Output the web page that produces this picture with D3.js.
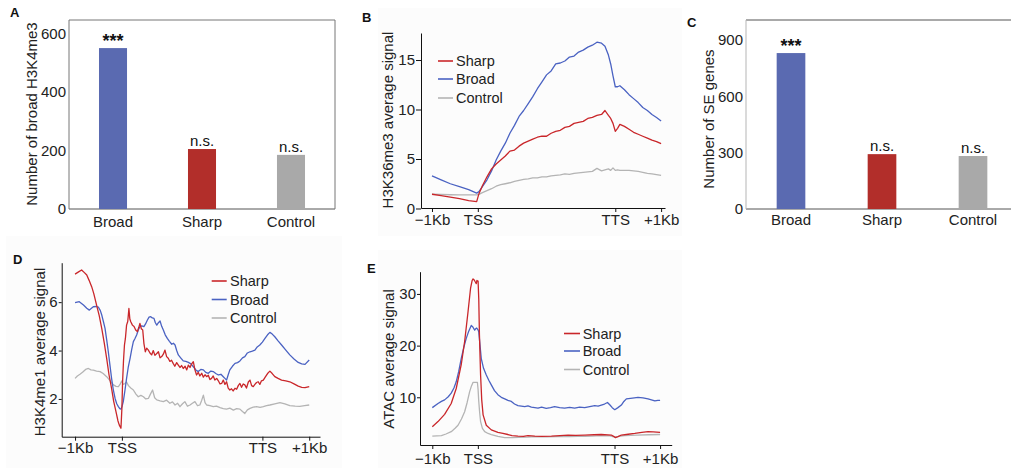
<!DOCTYPE html>
<html>
<head>
<meta charset="utf-8">
<script src="https://cdn.jsdelivr.net/npm/d3@7"></script>
<style>
  body { margin: 0; background: #fff; }
  svg { display: block; font-family: "Liberation Sans", Arial, sans-serif; }
</style>
</head>
<body>
<svg id="fig" width="1011" height="468"></svg>
<script>
// ---- data ----
const groups = ['Broad', 'Sharp', 'Control'];
const broadH3K4me3 = [550, 205, 185];
const seGenes = [830, 292, 282];
const signif = ['***', 'n.s.', 'n.s.'];
const ticksA = [0, 200, 400, 600];
const ticksC = [0, 300, 600, 900];

const profileTicks = [0, 20, 80, 100];
const profileLabels = ['\u22121Kb', 'TSS', 'TTS', '+1Kb'];
const legendNames = ['Sharp', 'Broad', 'Control'];

// B: H3K36me3 profiles (shared x positions, 0 = -1Kb, 20 = TSS, 80 = TTS, 100 = +1Kb)
const bX = [0,4,8,12,16,19.5,20.5,22,24,26,28,30,32,34,36,38,40,42,44,46,48,50,52,54,56,58,60,62,64,66,68,70,72,74,75.5,77,78,79,80,81,82,84,86,88,90,92,94,96,98,100];
const bSharp = [1.44,1.3,1.15,1.0,0.8,0.7,1.5,2.3,3.2,4.0,4.5,4.9,5.3,5.8,5.9,6.3,6.6,6.8,7.0,7.2,7.3,7.3,7.6,7.8,7.9,8.2,8.3,8.6,8.7,8.8,9.1,9.2,9.4,9.5,9.9,9.4,9.1,8.6,7.8,8.1,8.5,8.3,8.0,7.7,7.5,7.3,7.1,6.9,6.75,6.55];
const bBroad = [3.3,2.9,2.5,2.2,1.9,1.55,1.7,2.2,2.9,3.8,4.9,5.8,6.6,7.6,8.4,9.3,9.9,10.6,11.3,12.1,12.8,13.5,13.9,14.6,14.7,14.9,15.3,15.4,15.8,16.0,16.3,16.5,16.8,16.7,16.4,15.5,14.6,13.4,12.3,12.3,12.4,12.0,11.5,11.1,10.7,10.2,9.9,9.5,9.2,8.85];
const bControl = [1.44,1.42,1.39,1.37,1.37,1.37,1.42,1.6,1.8,2.0,2.25,2.4,2.5,2.6,2.75,2.85,2.95,3.0,3.1,3.1,3.2,3.2,3.3,3.35,3.4,3.5,3.45,3.55,3.6,3.65,3.7,3.75,4.05,3.8,3.9,4.0,3.85,4.1,3.85,3.9,3.85,3.85,3.85,3.8,3.75,3.65,3.55,3.5,3.42,3.35];

// D: H3K4me1 profiles, [x, signal]
const dSharp = [[0,7.16],[1.5,7.25],[2.8,7.33],[4,7.22],[5,7.12],[6,6.9],[7.1,6.64],[8,6.35],[9.2,5.88],[10.3,5.45],[11.4,4.92],[12.5,4.3],[13.5,3.68],[14.5,3.0],[15.6,2.44],[16.5,1.9],[17.5,1.47],[18.3,1.1],[18.9,0.92],[19.6,0.79],[20.0,1.6],[20.3,2.71],[20.7,3.6],[21.1,4.23],[21.5,4.5],[22,5.05],[22.5,5.2],[23,5.74],[23.4,5.3],[23.8,5.19],[24.5,5.05],[25.2,4.99],[25.9,4.85],[26.6,4.78],[27.2,4.95],[27.7,5.12],[28.3,4.9],[28.9,4.85],[29.4,4.3],[30,3.95],[30.6,4.1],[31.3,4.02],[32,3.9],[32.7,3.82],[33.4,4.0],[34.1,3.8],[34.9,3.88],[35.6,3.95],[36.3,3.7],[37,3.75],[37.7,3.85],[38.4,4.02],[39.1,3.75],[39.8,3.68],[40.5,3.55],[41.2,3.6],[41.9,3.47],[42.6,3.35],[43.4,3.5],[44.1,3.4],[44.8,3.3],[45.5,3.38],[46.2,3.26],[47,3.35],[47.7,3.2],[48.4,3.4],[49.1,3.3],[49.8,3.45],[50.5,3.54],[51.2,3.2],[51.9,2.99],[52.6,3.1],[53.3,2.95],[54.1,3.06],[54.8,2.9],[55.5,3.0],[56.2,2.92],[56.9,2.98],[57.6,2.8],[58.3,2.85],[59,2.95],[59.7,2.78],[60.5,2.85],[61.2,2.75],[61.9,2.62],[62.6,2.64],[63.3,2.78],[64,2.6],[64.7,2.71],[65.4,2.45],[66.1,2.37],[66.8,2.42],[67.5,2.33],[68.3,2.44],[69,2.4],[69.7,2.55],[70.4,2.64],[71.1,2.48],[71.8,2.62],[72.5,2.58],[73.2,2.45],[74,2.7],[74.7,2.78],[75.4,2.55],[76.1,2.51],[76.8,2.6],[77.5,2.68],[78.2,2.71],[78.9,2.6],[79.6,2.75],[80.4,2.78],[81.2,2.9],[82.2,3.05],[83.2,3.15],[84.2,3.05],[85.3,2.92],[86.7,2.85],[88.2,2.78],[90,2.75],[91.7,2.71],[93.5,2.62],[95.3,2.53],[96.8,2.48],[98.2,2.47],[100,2.51]];
const dBroad = [[0,5.98],[1.8,6.02],[3.6,5.88],[5,5.75],[6.1,5.67],[7,5.75],[7.8,5.81],[9,5.82],[10,5.79],[10.8,5.65],[11.4,5.47],[12.1,5.2],[12.8,4.92],[13.5,4.45],[14.2,3.95],[14.9,3.4],[15.6,2.85],[16.3,2.4],[17.1,2.02],[17.8,1.8],[18.5,1.68],[19.1,1.6],[19.6,1.58],[20.1,1.7],[20.6,1.89],[21.3,2.35],[22,2.85],[22.7,3.3],[23.5,3.68],[24.2,4.05],[24.9,4.37],[25.6,4.5],[26.3,4.64],[27,4.85],[27.7,4.99],[28.5,5.02],[29.4,4.99],[30.1,5.1],[30.9,5.26],[31.6,5.38],[32.3,5.4],[33,5.35],[33.7,5.33],[34.3,5.15],[34.9,5.05],[35.6,5.15],[36.3,5.22],[37,5.0],[37.7,4.85],[38.5,4.65],[39.4,4.5],[40.3,4.38],[41.3,4.26],[42,4.3],[42.7,4.23],[43.4,4.0],[44.1,3.82],[45.1,3.7],[46.2,3.57],[47.3,3.55],[48.4,3.51],[49.5,3.45],[50.5,3.33],[51.6,3.2],[52.6,3.13],[53.7,3.22],[54.8,3.2],[55.8,3.1],[56.9,3.06],[58,3.15],[59,3.13],[60.1,3.05],[61.2,2.99],[62.3,3.02],[63.3,2.92],[64,2.85],[64.7,2.78],[65.4,3.0],[66.1,3.2],[67.2,3.35],[68.3,3.47],[69.4,3.5],[70.4,3.57],[71.5,3.7],[72.5,3.75],[73.6,3.9],[74.7,3.95],[75.7,3.98],[76.8,4.02],[77.8,4.15],[78.9,4.23],[80,4.35],[81.1,4.5],[82.2,4.65],[83.2,4.75],[84.2,4.68],[85.3,4.57],[86.7,4.4],[88.2,4.23],[90,4.02],[91.7,3.82],[93.5,3.65],[95.3,3.51],[96.8,3.45],[98.2,3.43],[100,3.61]];
const dControl = [[0,2.85],[1,2.95],[2.1,3.02],[3.2,3.1],[4.5,3.22],[5.7,3.26],[6.8,3.2],[7.8,3.19],[9.2,3.15],[10.7,3.13],[12,3.05],[13.5,2.92],[15,2.75],[16.4,2.58],[17.5,2.52],[18.5,2.51],[19.2,2.6],[19.9,2.74],[20.6,2.6],[21.3,2.64],[22,2.7],[22.8,2.55],[23.8,2.45],[24.9,2.37],[26,2.2],[27,2.09],[28.1,2.15],[29.2,2.09],[30.2,2.0],[31.3,2.02],[32.2,2.2],[33.1,2.37],[34,2.05],[34.9,1.96],[36.3,1.92],[37.7,1.89],[39.1,1.95],[40.5,1.82],[41.6,1.88],[42.7,1.75],[43.8,1.82],[44.8,1.68],[45.9,1.8],[46.9,1.89],[48,1.7],[49.1,1.75],[50.1,1.82],[51.2,1.89],[52.3,1.72],[53.3,1.75],[54.1,1.95],[54.8,2.16],[55.5,1.85],[56.2,1.75],[57.6,1.72],[59,1.68],[60.4,1.7],[61.9,1.64],[63.3,1.6],[64.7,1.58],[66.1,1.62],[67.6,1.54],[69,1.6],[70.4,1.58],[71.5,1.48],[72.5,1.4],[73.6,1.55],[74.7,1.61],[76.1,1.66],[77.5,1.68],[79,1.65],[80.4,1.68],[81.8,1.72],[83.2,1.75],[85.3,1.8],[87.5,1.85],[89.6,1.8],[91.7,1.72],[94,1.7],[96,1.69],[98,1.72],[100,1.75]];

// E: ATAC profiles, [x, signal]
const eSharp = [[0,4.3],[2.5,5.3],[5.4,6.7],[8.3,8.8],[10.5,11.7],[12.7,16.3],[14.2,20.8],[15.7,26.6],[16.8,31.1],[17.5,32.6],[17.9,32.9],[18.4,32.7],[18.9,32.3],[19.3,32.0],[19.6,32.6],[20.1,32.5],[20.4,29],[20.7,22],[21.2,14.3],[21.7,9.5],[22.3,6.6],[23.7,4.6],[25.9,3.7],[28.8,3.2],[31,3.0],[33.2,2.8],[35,2.6],[37.6,2.5],[40,2.45],[42,2.6],[45,2.5],[48,2.45],[52.3,2.5],[56,2.6],[59.6,2.7],[63,2.65],[67,2.7],[71,2.75],[74.2,2.8],[78.6,2.7],[79.6,2.45],[80.4,2.2],[81.5,2.4],[83,2.7],[86,2.85],[88.9,3.0],[92,3.2],[94.7,3.35],[97,3.3],[100,3.2]];
const eBroad = [[0,8.0],[2.5,8.8],[4,9.2],[5.4,9.5],[7,10.1],[8.3,10.8],[9.5,11.8],[10.5,13.0],[11.6,15.0],[12.7,17.5],[13.8,19.6],[14.9,21.4],[16,22.8],[17.1,23.9],[17.8,23.6],[18.6,23.0],[19.1,23.3],[19.5,23.4],[20,23.1],[20.4,22.7],[21,19.8],[21.5,17.5],[22.5,15.6],[23.7,14.3],[24.8,13.3],[25.9,12.4],[27.3,11.3],[28.8,10.5],[30.3,10.0],[31.8,9.7],[33.2,9.4],[34.7,9.2],[36.1,8.7],[37.6,8.4],[39.1,8.3],[40.6,8.2],[42,8.35],[43.5,8.1],[45,8.0],[46.4,7.9],[48,8.1],[50,7.85],[51.9,8.0],[53.7,8.2],[55.9,8.0],[58.1,7.9],[60.3,8.05],[62.5,7.9],[64.7,8.1],[66.9,8.0],[69.1,8.2],[71.3,8.4],[72.8,8.3],[74.2,8.5],[75.6,8.7],[76.9,9.0],[78,8.5],[79,8.0],[80.1,7.6],[81.5,8.0],[83,8.5],[84.1,9.2],[85.2,9.7],[87,9.8],[88.7,9.9],[90.3,10.0],[92.5,9.9],[94.7,9.7],[96.2,9.5],[97.7,9.3],[99,9.4],[100,9.4]];
const eControl = [[0,2.5],[4,2.6],[6,2.9],[8.3,3.35],[10,4.0],[11.3,4.6],[12.8,5.8],[14.2,7.2],[15.3,9.0],[16.4,11.1],[17.2,12.2],[17.9,12.9],[18.8,12.9],[19.8,12.9],[20.1,11.5],[20.4,9.2],[20.8,7.0],[21.2,5.3],[22,4.0],[23,3.35],[24.5,3.0],[25.9,2.8],[28.8,2.45],[31.8,2.2],[35,2.2],[38,2.25],[42,2.3],[45,2.4],[50,2.35],[55,2.4],[60,2.4],[64,2.45],[66.9,2.45],[70,2.5],[74,2.6],[78,2.55],[80.1,2.3],[82,2.45],[84.5,2.6],[90,2.7],[95,2.75],[100,2.8]];

// ---- styles ----
const barFill = ['#5a6ab1', '#b22e2a', '#a9a9a9'];
const lineColor = { Sharp: '#c9262a', Broad: '#4a62c2', Control: '#b4b4b4' };
const textColor = '#222';
const fs = 15;

const svg = d3.select('#fig');

// very faint panel backgrounds (the figure panels were pasted images)
[[378, 8, 304, 228], [6, 236, 336, 232], [378, 250, 304, 218]].forEach(r => {
  svg.append('rect').attr('x', r[0]).attr('y', r[1]).attr('width', r[2]).attr('height', r[3]).attr('fill', '#fcfcfc');
});

function panelLetter(t, x, y) {
  svg.append('text').attr('x', x).attr('y', y).attr('font-size', 13)
    .attr('font-weight', 'bold').attr('fill', '#111').text(t);
}

function yTitle(t, x, y) {
  svg.append('text').attr('transform', `translate(${x},${y}) rotate(-90)`)
    .attr('text-anchor', 'middle').attr('dominant-baseline', 'central')
    .attr('font-size', fs).attr('fill', textColor).text(t);
}

// bar panel with frame
function barPanel(o) {
  const g = svg.append('g');
  const x = d3.scaleBand().domain(groups).range(o.xRange)
    .paddingInner(0.685).paddingOuter(0.337);
  const y = d3.scaleLinear().domain(o.yDomain).range(o.yRange);

  // frame
  const [x0, x1] = o.xRange, [yb, yt] = o.yRange;
  g.append('line').attr('x1', x0).attr('x2', x1).attr('y1', yt).attr('y2', yt).attr('stroke', o.frame);
  g.append('line').attr('x1', x0).attr('x2', x1).attr('y1', yb).attr('y2', yb).attr('stroke', '#555');
  g.append('line').attr('x1', x0).attr('x2', x0).attr('y1', yt).attr('y2', yb).attr('stroke', o.leftFrame);
  if (o.rightFrame) g.append('line').attr('x1', x1).attr('x2', x1).attr('y1', yt).attr('y2', yb).attr('stroke', o.frame);

  g.selectAll('rect.bar').data(o.values).enter().append('rect')
    .attr('class', 'bar')
    .attr('x', (d, i) => x(groups[i]))
    .attr('width', x.bandwidth())
    .attr('y', d => y(d))
    .attr('height', d => y(0) - y(d))
    .attr('fill', (d, i) => barFill[i]);

  g.selectAll('text.sig').data(o.values).enter().append('text')
    .attr('x', (d, i) => x(groups[i]) + x.bandwidth() / 2)
    .attr('y', (d, i) => y(d) - (signif[i] === '***' ? 1 : 3))
    .attr('text-anchor', 'middle')
    .attr('font-size', (d, i) => signif[i] === '***' ? 18 : 15)
    .attr('font-weight', (d, i) => signif[i] === '***' ? 'bold' : 'normal')
    .attr('fill', '#111')
    .text((d, i) => signif[i]);

  const ax = g.append('g').attr('transform', `translate(0,${yb})`)
    .call(d3.axisBottom(x).tickSize(0).tickPadding(o.xPad));
  ax.select('.domain').remove();
  ax.selectAll('text').attr('font-size', fs).attr('fill', textColor).attr('font-family', null);

  const ay = g.append('g').attr('transform', `translate(${x0},0)`)
    .call(d3.axisLeft(y).tickValues(o.ticks).tickSize(0).tickPadding(3));
  ay.select('.domain').remove();
  ay.selectAll('text').attr('font-size', fs).attr('fill', textColor).attr('font-family', null);
}

// profile panel
function profilePanel(o) {
  const g = svg.append('g');
  const x = d3.scaleLinear().domain(o.xDomain).range(o.xRange);
  const y = d3.scaleLinear().domain(o.yDomain).range(o.yRange);

  const line = d3.line().x(d => x(d[0])).y(d => y(d[1]));
  // control underneath, sharp on top
  [['Control', o.series.Control], ['Broad', o.series.Broad], ['Sharp', o.series.Sharp]].forEach(([k, data]) => {
    g.append('path').datum(data).attr('d', line)
      .attr('fill', 'none').attr('stroke', lineColor[k]).attr('stroke-width', 1.3)
      .attr('stroke-linejoin', 'round');
  });

  const ax = g.append('g').attr('transform', `translate(0,${o.yRange[0]})`)
    .call(d3.axisBottom(x).tickValues(profileTicks).tickFormat((d, i) => profileLabels[i])
      .tickSize(4).tickSizeOuter(0).tickPadding(o.xPad));
  ax.select('.domain').attr('stroke', '#111');
  ax.selectAll('.tick line').attr('stroke', '#111');
  ax.selectAll('text').attr('font-size', fs).attr('fill', textColor).attr('font-family', null);

  const ay = g.append('g').attr('transform', `translate(${o.xRange[0]},0)`)
    .call(d3.axisLeft(y).tickValues(o.ticks).tickSize(o.yTick).tickSizeOuter(0).tickPadding(1));
  ay.select('.domain').attr('stroke', '#111');
  ay.selectAll('.tick line').attr('stroke', '#111');
  ay.selectAll('text').attr('font-size', fs).attr('fill', textColor).attr('font-family', null);

  // legend
  const lg = g.append('g');
  legendNames.forEach((n, i) => {
    const yy = o.legend.ys[i];
    lg.append('line').attr('x1', o.legend.x1).attr('x2', o.legend.x2)
      .attr('y1', yy).attr('y2', yy).attr('stroke', lineColor[n]).attr('stroke-width', 1.6);
    lg.append('text').attr('x', o.legend.tx).attr('y', yy).attr('dominant-baseline', 'central')
      .attr('font-size', 14.5).attr('fill', textColor).text(n);
  });
}

// ---- A ----
panelLetter('A', 10, 17);
barPanel({ xRange: [69, 335], yRange: [209, 20], yDomain: [0, 646], ticks: ticksA,
  values: broadH3K4me3, frame: '#777', leftFrame: '#777', rightFrame: true, xPad: 7 });
yTitle('Number of broad H3K4me3', 31, 114);

// ---- B ----
panelLetter('B', 362, 22);
profilePanel({ xRange: [421, 665], xDomain: [-4.8, 101.7], yRange: [208, 33], yDomain: [0.05, 17.73],
  ticks: [0, 5, 10, 15], yTick: 5, xPad: 2,
  series: { Sharp: bX.map((v, i) => [v, bSharp[i]]), Broad: bX.map((v, i) => [v, bBroad[i]]), Control: bX.map((v, i) => [v, bControl[i]]) },
  legend: { x1: 438, x2: 453, tx: 456, ys: [61, 79, 98] } });
yTitle('H3K36me3 average signal', 387.5, 120);

// ---- C ----
panelLetter('C', 687, 27);
barPanel({ xRange: [746, 1018], yRange: [209, 20], yDomain: [0, 1006], ticks: ticksC,
  values: seGenes, frame: '#555', leftFrame: '#b5b5b5', rightFrame: false, xPad: 5 });
yTitle('Number of SE genes', 708, 119);

// ---- D ----
panelLetter('D', 13, 264);
profilePanel({ xRange: [61.7, 320], xDomain: [-5.7, 104.6], yRange: [436.7, 262.7], yDomain: [0.44, 7.63],
  ticks: [2, 4, 6], yTick: 3, xPad: 2,
  series: { Sharp: dSharp, Broad: dBroad, Control: dControl },
  legend: { x1: 211.7, x2: 226.7, tx: 230, ys: [281, 299.5, 318] } });
yTitle('H3K4me1 average signal', 39.5, 352);

// ---- E ----
panelLetter('E', 367, 273);
profilePanel({ xRange: [420, 671.7], xDomain: [-5.4, 105.1], yRange: [445, 271.7], yDomain: [0.77, 34.3],
  ticks: [10, 20, 30], yTick: 3, xPad: 4,
  series: { Sharp: eSharp, Broad: eBroad, Control: eControl },
  legend: { x1: 564, x2: 580, tx: 582.7, ys: [333.5, 351, 369.5] } });
yTitle('ATAC average signal', 388.5, 359);
</script>
</body>
</html>
